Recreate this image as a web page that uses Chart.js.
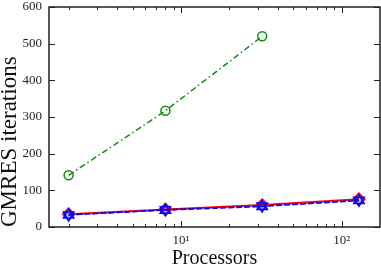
<!DOCTYPE html>
<html>
<head>
<meta charset="utf-8">
<script src="https://cdn.jsdelivr.net/npm/chart.js@4/dist/chart.umd.min.js"></script>
<style>
html,body{margin:0;padding:0;background:#fff;}
#wrap{width:381px;height:267px;}
</style>
</head>
<body>
<div id="wrap"><canvas id="c" width="381" height="267"></canvas></div>
<script>
const processors = [2, 8, 32, 128];
const greenVals = [141, 317, 520];
const redVals = [35, 48, 60, 76];
const blueUpVals = [33, 46, 56, 72];
const blueDownVals = [33, 47, 57, 73];
const yTicks = [0, 100, 200, 300, 400, 500, 600];
const xTicks = [2,3,4,5,6,7,8,9,10,20,30,40,50,60,70,80,90,100];
const xMajorLabels = {10: '10\u00B9', 100: '10\u00B2'};

const pts = (vals) => vals.map((v, i) => ({x: processors[i], y: v}));

const tickPlugin = {
  id: 'inticks',
  afterDraw(chart) {
    const ctx = chart.ctx, a = chart.chartArea;
    const xs = chart.scales.x, ys = chart.scales.y;
    ctx.save();
    ctx.strokeStyle = '#222';
    ctx.lineWidth = 1;
    xTicks.forEach(v => {
      const p = Math.round(xs.getPixelForValue(v)) + 0.5;
      const L = (v === 10 || v === 100) ? 6 : 3;
      ctx.beginPath();
      ctx.moveTo(p, a.bottom); ctx.lineTo(p, a.bottom - L);
      ctx.moveTo(p, a.top); ctx.lineTo(p, a.top + L);
      ctx.stroke();
    });
    yTicks.forEach(v => {
      const p = Math.round(ys.getPixelForValue(v)) + 0.5;
      ctx.beginPath();
      ctx.moveTo(a.left, p); ctx.lineTo(a.left + 6, p);
      ctx.moveTo(a.right, p); ctx.lineTo(a.right - 6, p);
      ctx.stroke();
    });
    ctx.lineWidth = 1.5;
    ctx.strokeRect(a.left, a.top, a.right - a.left, a.bottom - a.top);
    ctx.restore();
  }
};

new Chart(document.getElementById('c'), {
  type: 'line',
  data: {
    datasets: [
      {
        data: pts(blueDownVals),
        borderColor: '#0000ff', borderWidth: 1.5, borderDash: [2, 2],
        pointStyle: 'triangle', pointRotation: 180, pointRadius: 6,
        pointBorderColor: '#0000ff', pointBackgroundColor: 'rgba(0,0,255,0.15)', pointBorderWidth: 1.5
      },
      {
        data: pts(blueUpVals),
        borderColor: '#0000ff', borderWidth: 1.5, borderDash: [5, 3],
        pointStyle: 'triangle', pointRadius: 6,
        pointBorderColor: '#0000ff', pointBackgroundColor: 'rgba(0,0,255,0.15)', pointBorderWidth: 1.5
      },
      {
        data: pts(redVals),
        borderColor: '#ff0000', borderWidth: 2,
        pointStyle: 'rectRot', pointRadius: 6,
        pointBorderColor: '#ff0000', pointBackgroundColor: 'rgba(0,0,0,0)', pointBorderWidth: 1.5
      },
      {
        data: pts(greenVals),
        borderColor: '#108a10', borderWidth: 1.5, borderDash: [6, 3, 1.5, 3],
        pointStyle: 'circle', pointRadius: 4.5,
        pointBorderColor: '#108a10', pointBackgroundColor: 'rgba(0,0,0,0)', pointBorderWidth: 1.5
      }
    ]
  },
  options: {
    responsive: false,
    animation: false,
    layout: {autoPadding: false, padding: {top: 7, right: 1, left: 0, bottom: 0}},
    plugins: {legend: {display: false}, tooltip: {enabled: false}},
    elements: {line: {tension: 0}},
    scales: {
      x: {
        type: 'logarithmic',
        min: 1.51, max: 173,
        afterBuildTicks: (s) => { s.ticks = xTicks.map(v => ({value: v})); },
        afterFit: (s) => { s.height = 40; s.paddingLeft = 0; s.paddingRight = 0; },
        grid: {display: false, drawTicks: false},
        border: {display: false},
        ticks: {
          autoSkip: false, maxRotation: 0, padding: 6, color: '#222',
          font: {family: 'Liberation Serif', size: 13},
          callback: (v) => xMajorLabels[v] || ''
        },
        title: {
          display: true, text: 'Processors', color: '#111',
          font: {family: 'Liberation Serif', size: 20, lineHeight: 1},
          padding: {top: 0, bottom: -2}
        }
      },
      y: {
        type: 'linear',
        min: 0, max: 600,
        afterBuildTicks: (s) => { s.ticks = yTicks.map(v => ({value: v})); },
        afterFit: (s) => { s.width = 49; s.paddingTop = 0; s.paddingBottom = 0; },
        grid: {display: false, drawTicks: false},
        border: {display: false},
        ticks: {
          padding: 7, color: '#222',
          font: {family: 'Liberation Serif', size: 13}
        },
        title: {
          display: true, text: 'GMRES iterations', color: '#111', align: 'start',
          font: {family: 'Liberation Serif', size: 23, lineHeight: 1},
          padding: {top: -2, bottom: 0}
        }
      }
    }
  },
  plugins: [tickPlugin]
});
</script>
</body>
</html>
